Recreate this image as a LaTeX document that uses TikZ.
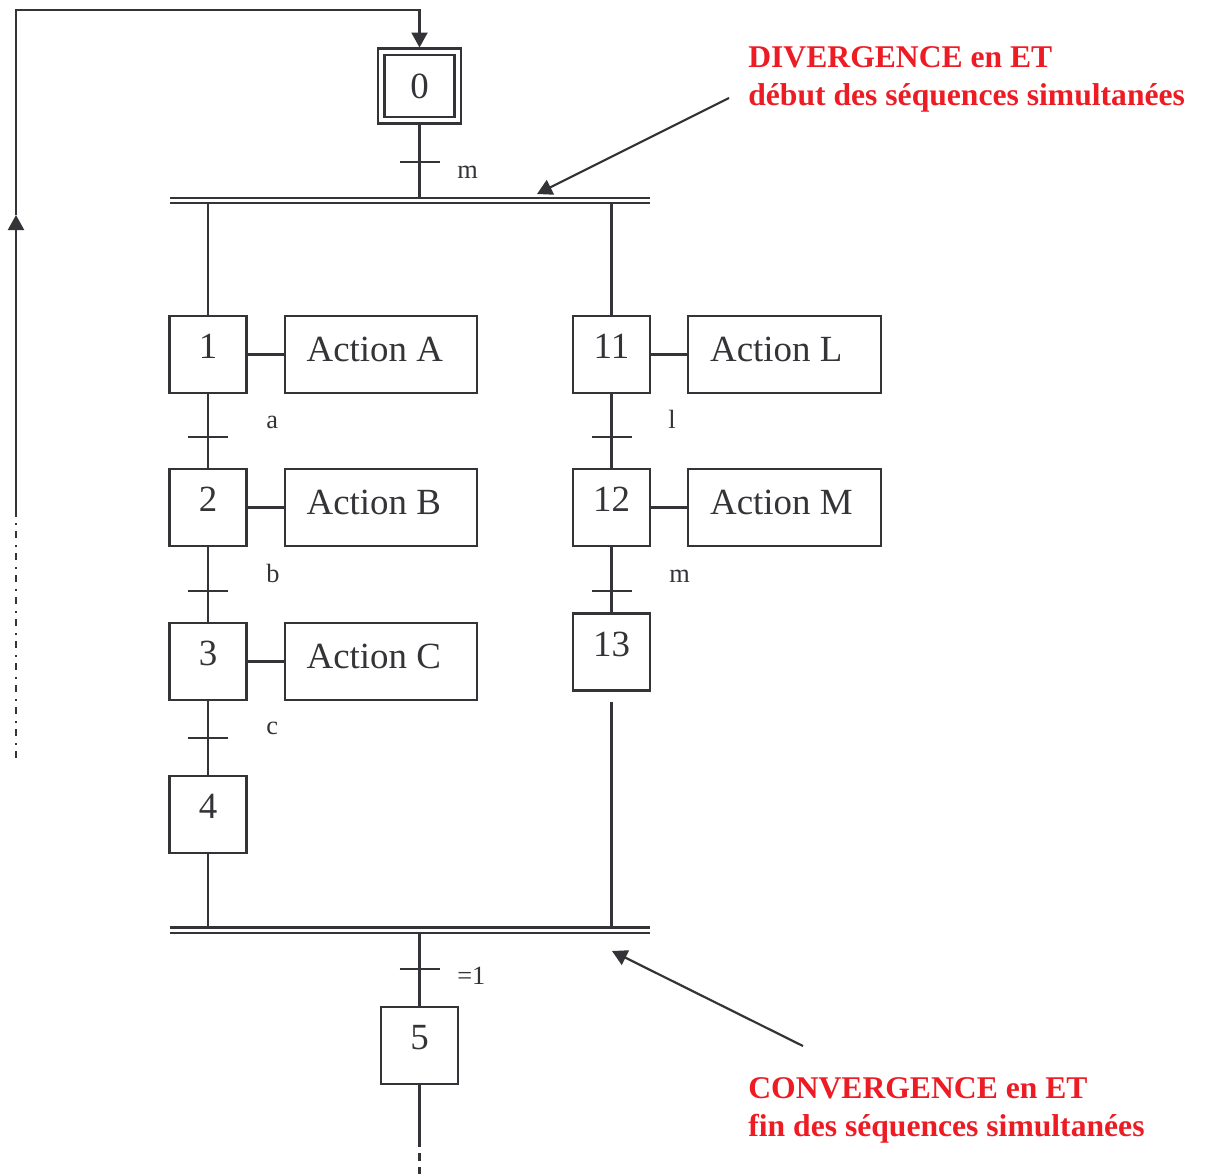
\documentclass[tikz,border=0pt]{standalone}
\usepackage{fontspec}
\setmainfont{Liberation Serif}
\usetikzlibrary{positioning,arrows.meta}
\definecolor{inkGray}{RGB}{52,52,56}
\definecolor{noteRed}{RGB}{237,28,36}

\begin{document}
\begin{tikzpicture}
[x=0.02cm,y=-0.02cm,
  lineDecorate/.style={-,draw=inkGray,line width=1.25pt},%
  arrowDecorate/.style={lineDecorate,-{Triangle[width=0.32cm,length=0.3cm]}},
  barDecorate/.style={lineDecorate,double=white,double distance=0.066cm},
  stepDecorate/.style={shape=rectangle,draw=inkGray,line width=1.25pt,inner sep=0pt,
    minimum width=1.54cm,minimum height=1.54cm,text=inkGray,
    font=\fontsize{21}{25}\selectfont,text depth=0.32cm},
  initDecorate/.style={stepDecorate,double=white,double distance=0.085cm,
    minimum width=1.53cm,minimum height=1.37cm,text depth=0pt,outer sep=0.085cm},
  actionDecorate/.style={stepDecorate,minimum width=3.85cm,text depth=0.2cm,
    inner xsep=0.44cm,text width=2.97cm,align=flush left},
  labelDecorate/.style={anchor=base west,inner sep=0pt,text=inkGray,
    font=\fontsize{15}{18}\selectfont},
  noteDecorate/.style={anchor=north west,inner sep=0pt,align=left,text=noteRed,
    font=\bfseries\fontsize{18}{21.5}\selectfont}]
\useasboundingbox (0,0) rectangle (1207,1174);
%% steps
\node (s0) at (419.5,86) [initDecorate] {0};
\foreach \stepname/\x/\y in {
  1/208/354.5, 2/208/507.5, 3/208/661.5, 4/208/814.5,
  11/611.5/354.5, 12/611.5/507.5, 13/611.5/652,
  5/419.5/1045.5}
{
  \node (s\stepname) at (\x,\y) [stepDecorate] {\stepname};
}
%% actions
\foreach \stepname/\actname in {1/A, 2/B, 3/C, 11/L, 12/M}
{
  \node (act\actname) [actionDecorate,right=0.72cm of s\stepname] {Action \actname};
  \path (s\stepname) edge[lineDecorate] (act\actname);
}
%% transitions
\foreach \tname/\x/\y in {
  tm/419.5/162, ta/208/437, tb/208/591, tc/208/738,
  tl/611.5/437, tn/611.5/591, tone/419.5/969}
{
  \coordinate (\tname) at (\x,\y);
  \draw[lineDecorate] ([xshift=-0.4cm]\tname) -- ([xshift=0.4cm]\tname);
}
\foreach \lname/\x/\y/\ltext in {
  lm/457/178/m, la/266/428/a, lb/266/582/b, lc/266/734/c,
  ll/668/428/l, ln/669/582/m, lone/457/984/{=1}}
{
  \node (\lname) at (\x,\y) [labelDecorate] {\ltext};
}
%% links between steps
\path
\foreach \startnode/\endnode in {s1/s2, s2/s3, s3/s4, s11/s12, s12/s13}
{
  (\startnode) edge[lineDecorate] (\endnode)
};
%% divergence and convergence
\coordinate (divL) at (170,200.5);
\coordinate (divR) at (650,200.5);
\coordinate (convL) at (170,930.2);
\coordinate (convR) at (650,930.2);
\draw[lineDecorate] (s0.south) -- (s0.south |- divL);
\draw[lineDecorate] (s1.north |- divL) -- (s1.north);
\draw[lineDecorate] (s11.north |- divL) -- (s11.north);
\draw[lineDecorate] (s4.south) -- (s4.south |- convL);
\draw[lineDecorate] ([yshift=-0.2cm]s13.south) -- (s13.south |- convL);
\draw[lineDecorate] (s5.north |- convL) -- (s5.north);
\draw[barDecorate] (divL) -- (divR);
\draw[barDecorate] (convL) -- (convR);
%% after step 5
\coordinate (s5mid) at (419.5,1147);
\coordinate (s5end) at (419.5,1174);
\draw[lineDecorate] (s5.south) -- (s5mid);
\draw[lineDecorate,dash pattern=on 4.5pt off 3.4pt,dash phase=4.5pt] (s5mid) -- (s5end);
%% loop back to step 0
\coordinate (loopS) at (16,757.7);
\coordinate (loopM) at (16,515.7);
\coordinate (loopA) at (16,215);
\coordinate (loopT) at (16,10);
\coordinate (topT) at (419.5,10);
\draw[lineDecorate,dash pattern=on 4pt off 3.4pt on 1.1pt off 4pt] (loopS) -- (loopM);
\draw[arrowDecorate] (loopM) -- (loopA);
\draw[arrowDecorate] (loopA) -- (loopT) -- (topT) -- (s0.north);
%% notes
\node (divText) at (748,46) [noteDecorate] {DIVERGENCE en ET\\début des séquences simultanées};
\node (convText) at (748,1077) [noteDecorate] {CONVERGENCE en ET\\fin des séquences simultanées};
\coordinate (divTail) at (729,98);
\coordinate (divTip) at (537,194);
\coordinate (convTail) at (803,1046);
\coordinate (convTip) at (612,951);
\draw[arrowDecorate] (divTail) -- (divTip);
\draw[arrowDecorate] (convTail) -- (convTip);
\end{tikzpicture}
\end{document}
